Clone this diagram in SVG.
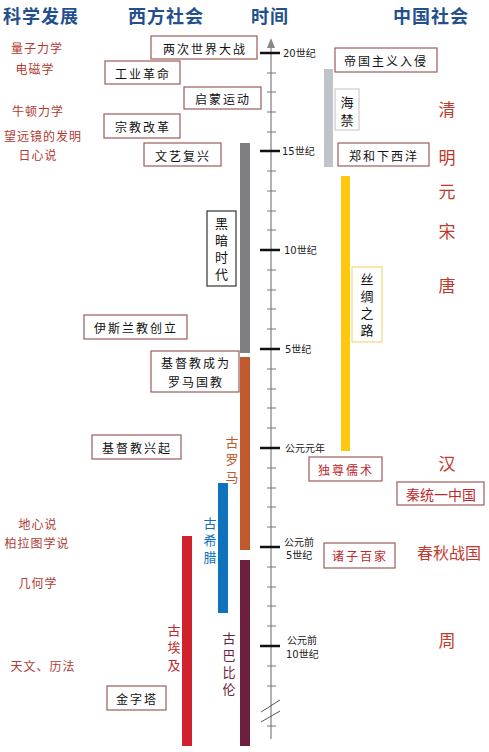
<svg xmlns="http://www.w3.org/2000/svg" width="489" height="752" viewBox="0 0 489 752">
<style>
text{font-family:"Noto Sans CJK SC","Noto Sans",sans-serif;}
.hd{font-size:18px;font-weight:bold;fill:#234f8f;letter-spacing:1px;}
.sci{font-size:12px;fill:#b23a33;text-anchor:middle;dominant-baseline:central;letter-spacing:1px;}
.box{fill:#fff;stroke:#9c5a5a;stroke-width:1.2;}
.bt{font-size:12px;fill:#111;text-anchor:middle;dominant-baseline:central;letter-spacing:2px;}
.rt{font-size:12px;fill:#c0282e;text-anchor:middle;dominant-baseline:central;letter-spacing:2px;}
.vt{font-size:13px;writing-mode:vertical-rl;letter-spacing:4px;}
.dy{font-size:17px;fill:#c0392b;text-anchor:middle;dominant-baseline:central;}
.tl{font-family:"DejaVu Sans","Noto Sans CJK SC",sans-serif;font-size:10px;fill:#222;}
.maj{stroke:#111;stroke-width:2.5;}
.min{stroke:#777;stroke-width:1;}
</style>
<rect width="489" height="752" fill="#fff"/>
<!-- headers -->
<g id="headers">
<text class="hd" x="3" y="23">科学发展</text>
<text class="hd" x="128" y="23">西方社会</text>
<text class="hd" x="251" y="23">时间</text>
<text class="hd" x="393" y="23">中国社会</text>
</g>
<!-- axis -->
<g id="axis">
<line x1="271" y1="46" x2="271" y2="739" stroke="#888" stroke-width="1.3"/>
<polygon points="271,38 267,48 275,48" fill="#888"/>
<g class="min">
<line x1="267" y1="73" x2="276" y2="73"/><line x1="267" y1="92" x2="276" y2="92"/><line x1="267" y1="112" x2="276" y2="112"/><line x1="267" y1="132" x2="276" y2="132"/>
<line x1="267" y1="171" x2="276" y2="171"/><line x1="267" y1="191" x2="276" y2="191"/><line x1="267" y1="211" x2="276" y2="211"/><line x1="267" y1="230" x2="276" y2="230"/>
<line x1="267" y1="270" x2="276" y2="270"/><line x1="267" y1="290" x2="276" y2="290"/><line x1="267" y1="309" x2="276" y2="309"/><line x1="267" y1="329" x2="276" y2="329"/>
<line x1="267" y1="369" x2="276" y2="369"/><line x1="267" y1="389" x2="276" y2="389"/><line x1="267" y1="408" x2="276" y2="408"/><line x1="267" y1="428" x2="276" y2="428"/>
<line x1="267" y1="468" x2="276" y2="468"/><line x1="267" y1="488" x2="276" y2="488"/><line x1="267" y1="507" x2="276" y2="507"/><line x1="267" y1="527" x2="276" y2="527"/>
<line x1="267" y1="567" x2="276" y2="567"/><line x1="267" y1="587" x2="276" y2="587"/><line x1="267" y1="606" x2="276" y2="606"/><line x1="267" y1="626" x2="276" y2="626"/>
<line x1="267" y1="666" x2="276" y2="666"/><line x1="267" y1="686" x2="276" y2="686"/><line x1="267" y1="726" x2="276" y2="726"/>
</g>
<g class="maj">
<line x1="260" y1="53" x2="280" y2="53"/>
<line x1="260" y1="151" x2="280" y2="151"/>
<line x1="260" y1="250" x2="280" y2="250"/>
<line x1="260" y1="349" x2="280" y2="349"/>
<line x1="260" y1="448" x2="280" y2="448"/>
<line x1="260" y1="547" x2="280" y2="547"/>
<line x1="260" y1="646" x2="280" y2="646"/>
</g>
<line x1="261" y1="712" x2="280" y2="700" stroke="#555" stroke-width="1"/>
<line x1="261" y1="722" x2="280" y2="711" stroke="#555" stroke-width="1"/>
<text class="tl" x="283" y="57">20世纪</text>
<text class="tl" x="282" y="155">15世纪</text>
<text class="tl" x="284" y="254">10世纪</text>
<text class="tl" x="285" y="353">5世纪</text>
<text class="tl" x="285" y="452">公元元年</text>
<text class="tl" x="284" y="546">公元前</text>
<text class="tl" x="286" y="559">5世纪</text>
<text class="tl" x="287" y="644">公元前</text>
<text class="tl" x="286" y="658">10世纪</text>
</g>
<!-- science -->
<g id="science">
<text class="sci" x="37" y="47">量子力学</text>
<text class="sci" x="35" y="68">电磁学</text>
<text class="sci" x="38" y="110">牛顿力学</text>
<text class="sci" x="43" y="135">望远镜的发明</text>
<text class="sci" x="38" y="154">日心说</text>
<text class="sci" x="38" y="523">地心说</text>
<text class="sci" x="37" y="542">柏拉图学说</text>
<text class="sci" x="38" y="582">几何学</text>
<text class="sci" x="43" y="665">天文、历法</text>
</g>
<!-- bars -->
<g id="bars">
<rect x="240" y="143" width="10" height="210" fill="#7f7f82"/>
<rect x="240" y="357" width="10" height="193" fill="#c05a2c"/>
<rect x="240" y="560" width="10" height="186" fill="#6d1f40"/>
<rect x="218" y="483" width="10" height="130" fill="#0f72bd"/>
<rect x="182" y="536" width="10" height="210" fill="#cf222c"/>
<rect x="324" y="69" width="9" height="98" fill="#bfc3ca"/>
<rect x="341" y="176" width="9" height="275" fill="#fdc80e"/>
</g>
<!-- western nodes -->
<g id="n-ww"><rect class="box" x="151" y="36" width="106" height="23"/><text class="bt" x="205" y="48">两次世界大战</text></g>
<g id="n-industrial"><rect class="box" x="105" y="61" width="75" height="23"/><text class="bt" x="143" y="73">工业革命</text></g>
<g id="n-enlight"><rect class="box" x="184" y="87" width="77" height="22"/><text class="bt" x="223" y="98">启蒙运动</text></g>
<g id="n-reform"><rect class="box" x="104" y="114" width="76" height="24"/><text class="bt" x="143" y="126">宗教改革</text></g>
<g id="n-renaiss"><rect class="box" x="144" y="143" width="77" height="23"/><text class="bt" x="183" y="155">文艺复兴</text></g>
<g id="n-dark"><rect x="207" y="211" width="29" height="75" fill="#fff" stroke="#333" stroke-width="1.2"/>
<text class="vt" x="221.5" y="216.5" fill="#111">黑暗时代</text></g>
<g id="n-islam"><rect class="box" x="84" y="315" width="103" height="24"/><text class="bt" x="136" y="327">伊斯兰教创立</text></g>
<g id="n-christ-state"><rect class="box" x="151" y="351" width="88" height="41"/><text class="bt" x="196" y="362">基督教成为</text><text class="bt" x="196" y="381">罗马国教</text></g>
<g id="n-christ-rise"><rect class="box" x="92" y="435" width="89" height="24"/><text class="bt" x="137" y="447">基督教兴起</text></g>
<g id="n-pyramid"><rect class="box" x="107" y="686" width="59" height="24"/><text class="bt" x="137" y="698">金字塔</text></g>
<g id="n-rome"><text class="vt" x="232" y="435.5" fill="#c05a2c" style="letter-spacing:4.5px">古罗马</text></g>
<g id="n-greece"><text class="vt" x="210" y="516.5" fill="#0f72bd">古希腊</text></g>
<g id="n-egypt"><text class="vt" x="174" y="623.5" fill="#c0282e" style="letter-spacing:4.5px">古埃及</text></g>
<g id="n-babylon"><text class="vt" x="229" y="631.5" fill="#6d1f40">古巴比伦</text></g>
<!-- china nodes -->
<g id="n-imperial"><rect class="box" x="335" y="48" width="102" height="24"/><text class="bt" x="386" y="60">帝国主义入侵</text></g>
<g id="n-haijin"><rect x="335" y="89" width="24" height="41" fill="#fff" stroke="#c8ccd2" stroke-width="1.2"/><text class="vt" x="347" y="95.5" fill="#111" style="letter-spacing:5px">海禁</text></g>
<g id="n-zhenghe"><rect class="box" x="338" y="143" width="91" height="23"/><text class="bt" x="384" y="155">郑和下西洋</text></g>
<g id="n-silk"><rect x="352" y="267" width="30" height="75" fill="#fff" stroke="#f3d77a" stroke-width="1.2"/>
<text class="vt" x="367" y="272.5" fill="#111">丝绸之路</text></g>
<g id="n-rushu"><rect class="box" x="309" y="457" width="73" height="24"/><text class="rt" x="346" y="469">独尊儒术</text></g>
<g id="n-qin"><rect class="box" x="397" y="482" width="87" height="23"/><text class="rt" x="441" y="494" style="font-size:14px;letter-spacing:0">秦统一中国</text></g>
<g id="n-zhuzi"><rect class="box" x="324" y="543" width="71" height="25"/><text class="rt" x="360" y="555">诸子百家</text></g>
<g id="dynasties">
<text class="dy" x="447" y="108">清</text>
<text class="dy" x="447" y="156">明</text>
<text class="dy" x="447" y="190">元</text>
<text class="dy" x="447" y="230">宋</text>
<text class="dy" x="447" y="284">唐</text>
<text class="dy" x="447" y="462">汉</text>
<text class="dy" x="449" y="552" style="font-size:16px">春秋战国</text>
<text class="dy" x="447" y="639">周</text>
</g>
<g id="connectors"></g>
</svg>
